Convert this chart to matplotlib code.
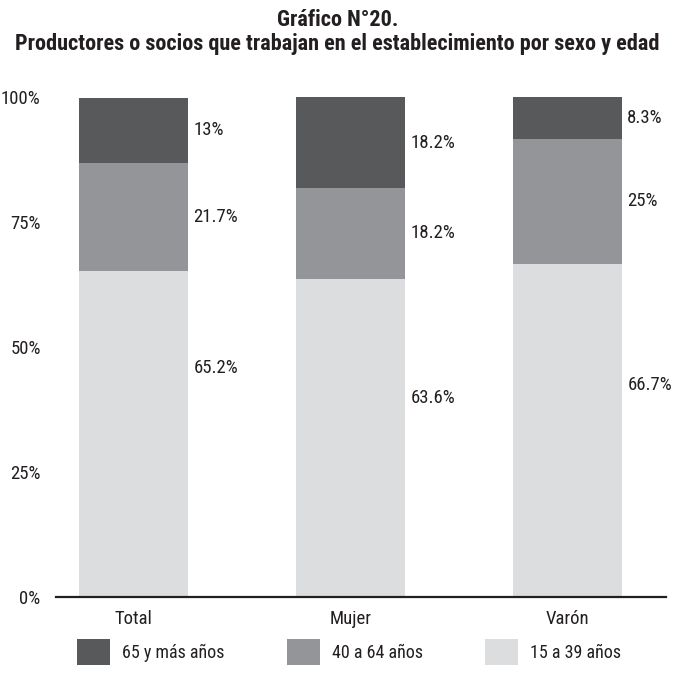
import numpy as np
import matplotlib
matplotlib.use("Agg")
import matplotlib.pyplot as plt
import matplotlib.font_manager as fm
from matplotlib.patches import Patch

# ---- data ----
categories = ["Total", "Mujer", "Varón"]
series_names = ["65 y más años", "40 a 64 años", "15 a 39 años"]
v_15_39 = [65.2, 63.6, 66.7]
v_40_64 = [21.7, 18.2, 25.0]
v_65 = [13.0, 18.2, 8.3]
lbl_15_39 = ["65.2%", "63.6%", "66.7%"]
lbl_40_64 = ["21.7%", "18.2%", "25%"]
lbl_65 = ["13%", "18.2%", "8.3%"]
yticks = [0, 25, 50, 75, 100]
ytick_labels = ["0%", "25%", "50%", "75%", "100%"]
title = "Gráfico N°20.\nProductores o socios que trabajan en el establecimiento por sexo y edad"

# layout: vertical anchor of the bottom-segment labels (as in the reference)
bottom_label_y = [45.8, 39.8, 42.4]

c_dark = "#58595b"
c_mid = "#939598"
c_light = "#dcdddf"
txt = "#231f20"


def pick_font(bold=False):
    cands = []
    for f in fm.fontManager.ttflist:
        n = f.name
        st = str(f.stretch)
        cond = ("Condensed" in n or "Narrow" in n or
                st in ("condensed", "semi-condensed", "extra-condensed") or
                "ondensed" in f.fname or "Narrow" in f.fname)
        if not cond or f.style != "normal":
            continue
        w = f.weight if isinstance(f.weight, int) else (700 if "bold" in str(f.weight) else 400)
        if bold and w < 600:
            continue
        if not bold and (w >= 600 or w < 350):
            continue
        pr = 5
        for i, key in enumerate(["Roboto Condensed", "DejaVu", "Liberation Sans Narrow", "Open Sans", "Noto Sans"]):
            if key in n:
                pr = i
                break
        cands.append((pr, f.fname))
    if cands:
        cands.sort()
        return fm.FontProperties(fname=cands[0][1]), True
    return fm.FontProperties(family="DejaVu Sans", weight="bold" if bold else "normal"), False


fp_reg, cond_ok = pick_font(False)
fp_bold, _ = pick_font(True)
scale = 1.0 if cond_ok else 0.85

fs = 13.0 * scale
fs_val = 13.5 * scale
fs_title = 16.0 * scale

fig = plt.figure(figsize=(6.75, 6.87), dpi=100)
ax = fig.add_axes([56 / 675, 1 - 597 / 687, 610 / 675, 500 / 687])

x = np.arange(len(categories))
w = 0.5
b1 = np.array(v_15_39)
b2 = b1 + np.array(v_40_64)
ax.bar(x, v_15_39, w, color=c_light, label=series_names[2])
ax.bar(x, v_40_64, w, bottom=b1, color=c_mid, label=series_names[1])
ax.bar(x, v_65, w, bottom=b2, color=c_dark, label=series_names[0])

ax.set_xlim(-0.358, 2.453)
ax.set_ylim(0, 100)

for i in range(len(categories)):
    xl = x[i] + w / 2 + 0.025
    ax.text(xl, bottom_label_y[i], lbl_15_39[i], va="center", ha="left",
            fontproperties=fp_reg, fontsize=fs_val, color=txt)
    ax.text(xl, b1[i] + v_40_64[i] / 2, lbl_40_64[i], va="center", ha="left",
            fontproperties=fp_reg, fontsize=fs_val, color=txt)
    ax.text(xl, b2[i] + v_65[i] / 2, lbl_65[i], va="center", ha="left",
            fontproperties=fp_reg, fontsize=fs_val, color=txt)

ax.set_yticks(yticks)
ax.set_yticklabels(ytick_labels)
ax.set_xticks(x)
ax.set_xticklabels(categories)
for lab in ax.get_yticklabels() + ax.get_xticklabels():
    lab.set_fontproperties(fp_reg)
    lab.set_fontsize(fs_val)
    lab.set_color(txt)
ax.tick_params(axis="y", length=0, pad=11)
ax.tick_params(axis="x", length=0, pad=9)

for s in ["top", "right", "left"]:
    ax.spines[s].set_visible(False)
ax.spines["bottom"].set_linewidth(1.6)
ax.spines["bottom"].set_color(txt)

fig.text(0.5, 1 - 32 / 687, title, ha="center", va="center",
         fontproperties=fp_bold, fontsize=fs_title, color=txt, linespacing=1.15)

fp_leg = fp_reg.copy()
fp_leg.set_size(fs)
handles = [Patch(facecolor=c_dark, edgecolor="none"),
           Patch(facecolor=c_mid, edgecolor="none"),
           Patch(facecolor=c_light, edgecolor="none")]
leg = fig.legend(handles, series_names, loc="center", bbox_to_anchor=(349 / 675, 1 - 652 / 687),
                 ncol=3, frameon=False, handlelength=1.85, handleheight=1.85,
                 handletextpad=0.65, columnspacing=3.45, prop=fp_leg)
for t in leg.get_texts():
    t.set_color(txt)

fig.savefig("out.png", dpi=100)
